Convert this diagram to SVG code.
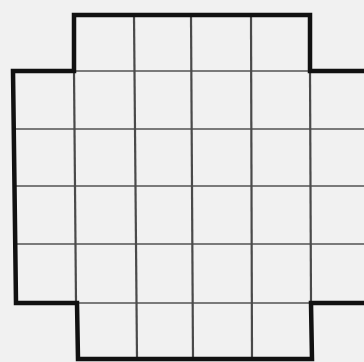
<svg xmlns="http://www.w3.org/2000/svg" width="364" height="362" viewBox="0 0 364 362">
<style>
.v{stroke:#4a4a4a;stroke-width:2.2;fill:none}
.h{stroke:#7a7a7a;stroke-width:2;fill:none}
.o{stroke:#111;stroke-width:4.5;fill:none;stroke-linejoin:miter}
</style>
<rect width="364" height="362" fill="#f1f1f1"/>
<g id="grid">
<path class="h" d="M74,71 H310"/>
<path class="h" d="M13,129 H364"/>
<path class="h" d="M14,186 H364"/>
<path class="h" d="M15,244 H364"/>
<path class="h" d="M77,303 H312"/>
<path class="v" d="M74,71 L76,303"/>
<path class="v" d="M134,15 L137,359"/>
<path class="v" d="M191,15 L193,359"/>
<path class="v" d="M251,15 L252,359"/>
<path class="v" d="M310,71 L311,303"/>
</g>
<g id="outline">
<path class="o" d="M364,71 H310 V15 H74 V71 H13 L16,303 H77 L78,359 H312 L311,303 H364"/>
</g>
</svg>
